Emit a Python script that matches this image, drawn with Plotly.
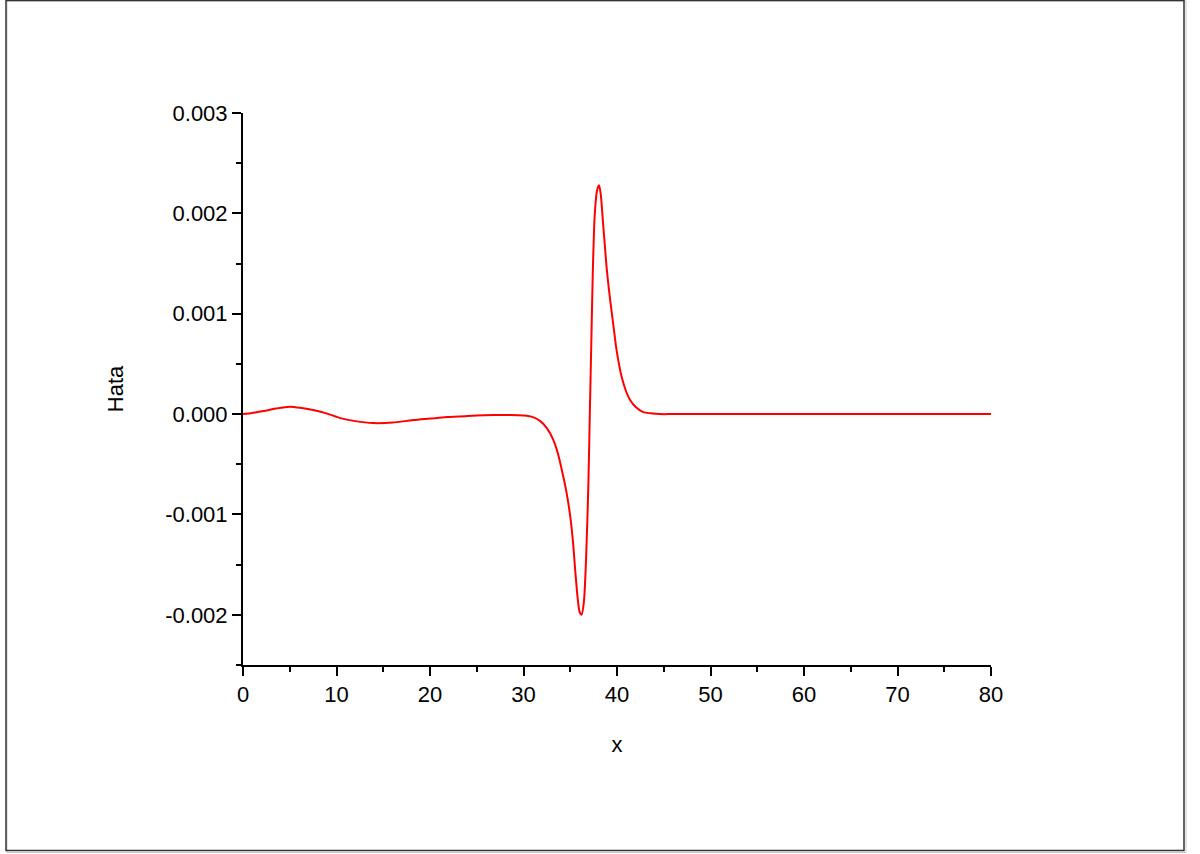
import plotly.graph_objects as go

x_vals = [0, 1, 2.2, 3.5, 5, 6.3, 7.5, 9, 10.4, 12, 13.9, 16, 18.2, 20, 21.8, 24, 26.8, 28.5, 30, 31, 31.8,
          32.5, 33.2, 33.7, 34.2, 34.6, 35, 35.3, 35.55, 35.8, 36.0, 36.2, 36.45, 36.75, 36.95, 37.1, 37.25,
          37.4, 37.55, 37.65, 37.85, 38.07, 38.25, 38.47, 38.7, 38.9, 39.15, 39.4, 39.7, 39.95, 40.5,
          41.0, 41.4, 42.0, 42.8, 43.6, 44.6, 46, 50, 60, 70, 80]
y_vals = [0, 0.000012, 0.00003, 0.000055, 0.000074, 0.00006, 0.00004, 0.000005, -0.00004, -0.00007, -0.00009,
          -0.000085, -0.00006, -0.000045, -0.00003, -0.00002, -0.00001, -0.00001, -0.000015, -0.00003, -0.00007,
          -0.00014, -0.00026, -0.00040, -0.00060, -0.00078, -0.00102, -0.00128, -0.00158, -0.00184, -0.00197,
          -0.00200, -0.00188, -0.00129, -0.00065, 0.00004, 0.00070, 0.00137, 0.00185, 0.00203, 0.00222,
          0.00228, 0.00220, 0.00195, 0.00168, 0.00145, 0.00123, 0.00104, 0.00082, 0.00064, 0.00037,
          0.00022, 0.00014, 0.00007, 0.00002, 0.000008, 0.0, 0.0, 0.0, 0.0, 0.0, 0.0]

x_ticks = [0, 10, 20, 30, 40, 50, 60, 70, 80]
y_ticks = [-0.002, -0.001, 0.0, 0.001, 0.002, 0.003]
y_labels = ["-0.002", "-0.001", "0.000", "0.001", "0.002", "0.003"]

fig = go.Figure()
fig.add_trace(go.Scatter(x=x_vals, y=y_vals, mode="lines",
                         line=dict(color="#ff0000", width=2, shape="spline", smoothing=0.8),
                         showlegend=False, hoverinfo="skip"))

font_family = "Liberation Sans, Arial, sans-serif"
fs = 22
fig.update_layout(
    width=1200, height=854,
    margin=dict(l=243, r=209, t=113, b=189),
    paper_bgcolor="white", plot_bgcolor="white",
    font=dict(family=font_family, size=fs, color="black"),
    xaxis=dict(range=[0, 80], tickvals=x_ticks, ticktext=[str(v) for v in x_ticks],
               showgrid=False, zeroline=False, showline=True, linecolor="black", linewidth=2,
               ticks="outside", ticklen=9, tickwidth=2, tickcolor="black",
               minor=dict(dtick=5, tick0=0, ticks="outside", ticklen=5, tickwidth=2, tickcolor="black"),
               title=dict(text="x", font=dict(size=fs), standoff=30), tickfont=dict(size=fs)),
    yaxis=dict(range=[-0.0025, 0.003], tickvals=y_ticks, ticktext=y_labels,
               showgrid=False, zeroline=False, showline=True, linecolor="black", linewidth=2,
               ticks="outside", ticklen=9, tickwidth=2, tickcolor="black",
               minor=dict(dtick=0.0005, tick0=0, ticks="outside", ticklen=5, tickwidth=2, tickcolor="black"),
               title=dict(text="Hata", font=dict(size=fs), standoff=36), tickfont=dict(size=fs)),
)

# outer frame of the figure
fig.add_shape(type="rect", xref="paper", yref="paper",
              x0=(7 - 243) / 748, x1=(1186 - 243) / 748,
              y0=(665 - 852.5) / 552, y1=(665 - 1) / 552,
              line=dict(color="#c8c8c8", width=1), layer="below")
fig.add_shape(type="rect", xref="paper", yref="paper",
              x0=(6 - 243) / 748, x1=(1184 - 243) / 748,
              y0=(665 - 850.5) / 552, y1=(665 - 0.5) / 552,
              line=dict(color="#333333", width=1.5), layer="below")

fig.write_html("out.html", config={"displayModeBar": False},
               post_script="document.body.style.margin='0';")
